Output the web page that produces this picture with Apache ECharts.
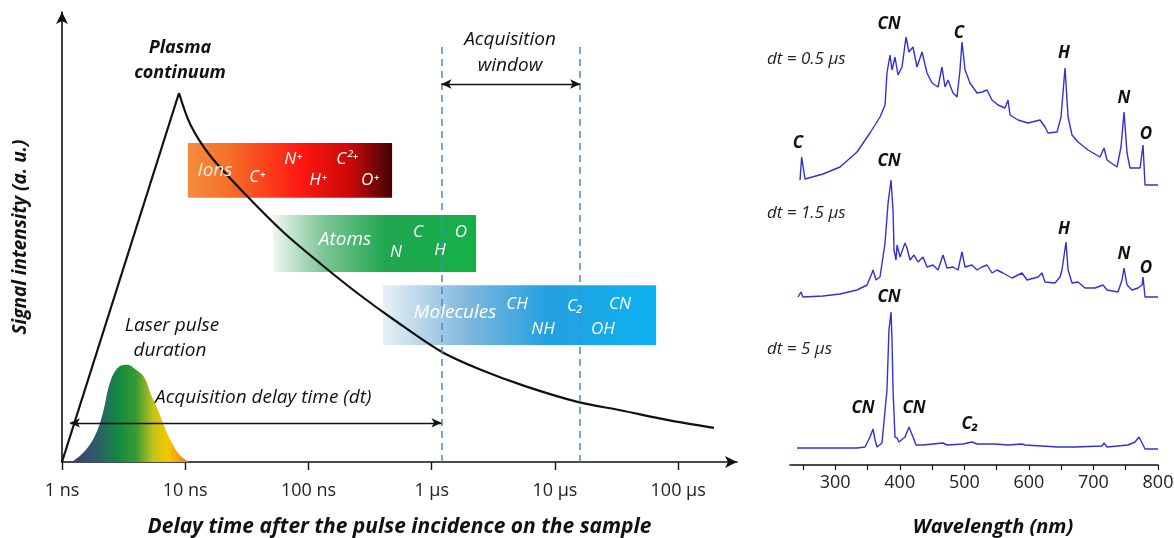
<!DOCTYPE html>
<html>
<head>
<meta charset="utf-8">
<script src="https://cdn.jsdelivr.net/npm/echarts@6/dist/echarts.min.js"></script>
<style>
  html, body { margin: 0; padding: 0; background: #fff; }
  #chart { width: 1174px; height: 538px; }
</style>
</head>
<body>
<div id="chart"></div>
<script>
// ---- left panel: time evolution (time in ns, intensity in a.u.) ----
const tickNs = [1, 10, 100, 1000, 10000, 100000];
const tickLabels = ['1 ns', '10 ns', '100 ns', '1 µs', '10 µs', '100 µs'];

const riseT = [1, 8.9];
const riseI = [0, 82];
const decayT = [8.9, 11, 16, 32, 63, 126, 250, 500, 1200, 2500, 5800, 15500, 34000, 83000, 195000];
const decayI = [82, 75, 68, 59, 51, 44, 37.5, 31.5, 24.5, 20.5, 16.8, 13.3, 11.5, 9.3, 7.6];

const pulseT = [1.2, 1.54, 1.89, 2.15, 2.45, 2.85, 3.37, 3.98, 4.63, 5.27, 6.0, 6.85, 7.8, 9.05, 10.7];
const pulseI = [0, 2.5, 6.4, 11, 17.6, 21, 21.6, 20.5, 18.9, 15, 11.6, 7.5, 4.2, 1.5, 0];

// species emission windows [t start, t end] ns, [I low, I high]
const ionsT = [10.5, 477],     ionsI = [58.7, 70.9];
const atomsT = [51.6, 2290],   atomsI = [42.2, 54.9];
const molT = [403, 66200],     molI = [26.0, 39.3];

const gateT = [1200, 16000];   // acquisition window (ns)
const gateTop = 92.7;
const windowArrowI = 84;
const delayStartT = 1.16;
const delayArrowI = 8.7;

// ---- right panel: spectra ----
const wlTicks = [250, 300, 350, 400, 450, 500, 550, 600, 650, 700, 750, 800];
const wlLabels = [300, 400, 500, 600, 700, 800];

const wl05 = [245.5, 248.1, 253.2, 281.1, 307.5, 333.8, 353.9, 369.4, 377.2, 380.2, 384.9, 388, 392.6, 397.3, 403.5, 409.7, 414.3, 420.5, 426.7, 434.5, 442.2, 450, 459.3, 465.4, 470.1, 474.7, 482.5, 488.7, 493.3, 496.4, 501.1, 508.8, 519.7, 527.4, 535.2, 542.9, 552.2, 563, 567.7, 570.8, 583.2, 598.7, 617.3, 625, 629.7, 643.6, 649.8, 656, 660.7, 666.8, 676.1, 691.6, 710.2, 716.4, 721, 736.5, 742.7, 747.4, 752, 756.7, 772.2, 776.8, 779.9, 800];
const int05 = [285, 308, 286, 291, 298, 313, 332, 348, 360, 392, 410, 395, 408, 390, 398, 428, 413, 418, 398, 413, 392, 382, 378, 398, 378, 385, 372, 368, 395, 423, 395, 382, 372, 373, 375, 365, 360, 357, 365, 350, 345, 342, 345, 338, 332, 333, 348, 397, 348, 330, 323, 315, 308, 317, 305, 298, 318, 353, 312, 297, 297, 320, 280, 280];

const wl15 = [242.4, 247, 250.1, 281.1, 307.5, 333.8, 349.3, 357, 358.6, 363.2, 369.4, 377.2, 381.9, 386.5, 389.6, 391.1, 394.2, 395.8, 400.4, 408.1, 411.2, 415.9, 422.1, 428.3, 436, 442.2, 451.5, 459.3, 467, 473.2, 482.5, 490.2, 496.4, 501.1, 511.9, 519.7, 527.4, 535.2, 542.9, 550.6, 559.9, 573.9, 589.4, 597.1, 614.2, 620.3, 625, 640.5, 648.2, 651.3, 657.5, 660.7, 666.8, 676.1, 687, 702.4, 714.8, 721, 738.1, 744.3, 747.4, 752, 759.8, 769.1, 775.3, 776.8, 779.9, 800];
const int15 = [168, 173, 168, 169, 171, 175, 180, 192, 195, 185, 188, 222, 262, 285, 255, 215, 205, 220, 208, 222, 217, 205, 210, 203, 208, 198, 200, 195, 210, 197, 198, 195, 213, 198, 200, 195, 198, 200, 192, 195, 192, 187, 192, 185, 188, 192, 183, 182, 188, 195, 223, 195, 182, 183, 177, 177, 180, 175, 173, 185, 197, 180, 175, 177, 180, 188, 168, 168];

const wl5 = [240.8, 281.1, 333.8, 346.2, 353.9, 358.6, 361.7, 364.8, 372.5, 380.2, 383.3, 386.5, 388, 389.6, 392.6, 395.8, 398.8, 408.1, 414.3, 420.5, 425.2, 436, 451.5, 467, 473.2, 498, 511.9, 519.7, 547.5, 567.7, 589.4, 590.9, 594, 645.1, 671.5, 713.3, 716.4, 721, 753.6, 764.4, 770.6, 775.3, 779.9, 800];
const int5 = [17, 17, 17, 18, 28, 36, 25, 18, 22, 75, 135, 153, 125, 75, 28, 27, 23, 28, 38, 28, 20, 20, 21, 22, 20, 21, 23, 21, 21, 20, 21, 23, 20, 18, 18, 19, 22, 18, 20, 23, 28, 22, 16, 16];

const L = Math.log10;
const zip = (a, b) => a.map((v, i) => [v, b[i]]);
const zipLog = (a, b) => a.map((v, i) => [L(v), b[i]]);

const FONT = '"Open Sans", "Noto Sans", sans-serif';
const G = echarts.graphic.LinearGradient;

function area(t, i, name, colors) {
  return [{ name: name, coord: [L(t[0]), i[1]], itemStyle: { color: new G(0, 0, 1, 0, colors) } },
          { coord: [L(t[1]), i[0]] }];
}

function txt(x, y, text, size, weight, color, align) {
  return {
    type: 'text', x: x, y: y, z: 100,
    style: {
      text: text, fill: color || '#111',
      font: 'italic ' + (weight || 'normal') + ' ' + size + 'px ' + FONT,
      textAlign: align || 'center', textVerticalAlign: 'middle'
    }
  };
}

const chart = echarts.init(document.getElementById('chart'));

const option = {
  animation: false,
  backgroundColor: '#fff',
  grid: [
    { left: 62, top: 12, width: 675, bottom: 76, outerBoundsMode: 'none', containLabel: false },
    { left: 790, top: 35, width: 368, bottom: 73, outerBoundsMode: 'none', containLabel: false }
  ],
  xAxis: [
    {
      gridIndex: 0, type: 'value', min: 0, max: L(300000),
      splitLine: { show: false },
      axisLine: { lineStyle: { color: '#111', width: 1.6 }, symbol: ['none', 'arrow'], symbolSize: [9, 12] },
      axisTick: { customValues: tickNs.map(L), length: 8, lineStyle: { color: '#111', width: 1.4 } },
      axisLabel: {
        customValues: tickNs.map(L), margin: 20, color: '#222', fontSize: 18, fontFamily: FONT,
        formatter: v => tickLabels[Math.round(v)]
      },
      name: 'Delay time after the pulse incidence on the sample',
      nameLocation: 'middle', nameGap: 55,
      nameTextStyle: { fontSize: 21, fontStyle: 'italic', fontWeight: 'bold', color: '#111', fontFamily: FONT }
    },
    {
      gridIndex: 1, type: 'value', min: 230, max: 800,
      splitLine: { show: false },
      axisLine: { lineStyle: { color: '#111', width: 1.6 } },
      axisTick: { customValues: wlTicks, length: 5, lineStyle: { color: '#111', width: 1.2 } },
      axisLabel: { customValues: wlLabels, margin: 9, color: '#222', fontSize: 18, fontFamily: FONT }
    }
  ],
  yAxis: [
    {
      gridIndex: 0, type: 'value', min: 0, max: 100,
      splitLine: { show: false }, axisTick: { show: false }, axisLabel: { show: false },
      axisLine: { show: true, lineStyle: { color: '#111', width: 1.6 }, symbol: ['none', 'arrow'], symbolSize: [9, 12] },
      name: 'Signal intensity (a. u.)', nameLocation: 'middle', nameGap: 32, nameRotate: 90,
      nameTextStyle: { fontSize: 19, fontStyle: 'italic', fontWeight: 'bold', color: '#111', fontFamily: FONT }
    },
    { gridIndex: 1, type: 'value', min: 0, max: 430, show: false }
  ],
  series: [
    {
      name: 'species', type: 'line', xAxisIndex: 0, yAxisIndex: 0, data: [], z: 1, silent: true,
      markArea: {
        silent: true, label: { show: false },
        data: [
          area(ionsT, ionsI, 'Ions', [{ offset: 0, color: '#f58c40' }, { offset: 0.2, color: '#f57028' }, { offset: 0.55, color: '#ff1812' }, { offset: 0.8, color: '#c80808' }, { offset: 1, color: '#420405' }]),
          area(atomsT, atomsI, 'Atoms', [{ offset: 0, color: '#eef7f0' }, { offset: 0.25, color: '#7cc596' }, { offset: 0.55, color: '#21a650' }, { offset: 1, color: '#14b048' }]),
          area(molT, molI, 'Molecules', [{ offset: 0, color: '#e8f0f6' }, { offset: 0.3, color: '#82b9dd' }, { offset: 0.6, color: '#24a0e0' }, { offset: 1, color: '#0cb2f0' }])
        ]
      }
    },
    {
      name: 'pulse', type: 'line', xAxisIndex: 0, yAxisIndex: 0, z: 2, smooth: 0.4, showSymbol: false,
      data: zipLog(pulseT, pulseI),
      lineStyle: { width: 0 },
      areaStyle: {
        opacity: 1,
        color: new G(0, 0, 1, 0, [
          { offset: 0, color: '#3c3f7c' }, { offset: 0.22, color: '#2d5d6a' }, { offset: 0.4, color: '#128a3e' },
          { offset: 0.55, color: '#3a9a34' }, { offset: 0.7, color: '#c8c418' }, { offset: 0.82, color: '#f4c800' },
          { offset: 1, color: '#f07a1c' }])
      }
    },
    {
      name: 'rise', type: 'line', xAxisIndex: 0, yAxisIndex: 0, z: 4, showSymbol: false,
      data: zipLog(riseT, riseI), lineStyle: { color: '#111', width: 2.2 }
    },
    {
      name: 'continuum', type: 'line', xAxisIndex: 0, yAxisIndex: 0, z: 4, showSymbol: false, smooth: 0.3,
      data: zipLog(decayT, decayI), lineStyle: { color: '#111', width: 2.2 }
    },
    {
      name: 'gate', type: 'line', xAxisIndex: 0, yAxisIndex: 0, data: [], z: 3,
      markLine: {
        silent: true, symbol: 'none', label: { show: false },
        lineStyle: { color: '#3d8fd4', type: [7, 5], width: 1.5 },
        data: gateT.map(t => [{ coord: [L(t), 0] }, { coord: [L(t), gateTop] }])
      }
    },
    {
      name: 'arrows', type: 'line', xAxisIndex: 0, yAxisIndex: 0, data: [], z: 5,
      markLine: {
        silent: true, symbol: ['arrow', 'arrow'], symbolSize: [7, 10], label: { show: false },
        lineStyle: { color: '#111', type: 'solid', width: 1.3 },
        data: [
          [{ coord: [L(gateT[0]), windowArrowI] }, { coord: [L(gateT[1]), windowArrowI] }],
          [{ coord: [L(delayStartT), delayArrowI] }, { coord: [L(gateT[0]), delayArrowI] }]
        ]
      }
    },
    {
      name: 'dt = 0.5 µs', type: 'line', xAxisIndex: 1, yAxisIndex: 1, showSymbol: false,
      data: zip(wl05, int05), lineStyle: { color: '#3232d2', width: 1.4 }
    },
    {
      name: 'dt = 1.5 µs', type: 'line', xAxisIndex: 1, yAxisIndex: 1, showSymbol: false,
      data: zip(wl15, int15), lineStyle: { color: '#3232d2', width: 1.4 }
    },
    {
      name: 'dt = 5 µs', type: 'line', xAxisIndex: 1, yAxisIndex: 1, showSymbol: false,
      data: zip(wl5, int5), lineStyle: { color: '#3232d2', width: 1.4 }
    }
  ],
  graphic: [
    // left panel annotations
    txt(180, 48, 'Plasma', 18, 'bold'),
    txt(180, 73, 'continuum', 18, 'bold'),
    txt(510, 40, 'Acquisition', 19),
    txt(510, 66, 'window', 19),
    txt(172, 326, 'Laser pulse', 19),
    txt(170, 351, 'duration', 19),
    txt(155, 398, 'Acquisition delay time (dt)', 19, 'normal', '#111', 'left'),
    txt(215, 171, 'Ions', 19, 'normal', '#fbeee4'),
    txt(257, 177, 'C⁺', 17, 'normal', '#fff'),
    txt(293, 159, 'N⁺', 17, 'normal', '#fff'),
    txt(318, 180, 'H⁺', 17, 'normal', '#fff'),
    txt(347, 159, 'C²⁺', 17, 'normal', '#fff'),
    txt(370, 180, 'O⁺', 17, 'normal', '#fff'),
    txt(345, 240, 'Atoms', 19, 'normal', '#fff'),
    txt(396, 252, 'N', 17, 'normal', '#fff'),
    txt(418, 232, 'C', 17, 'normal', '#fff'),
    txt(440, 250, 'H', 17, 'normal', '#fff'),
    txt(461, 232, 'O', 17, 'normal', '#fff'),
    txt(455, 313, 'Molecules', 19, 'normal', '#fff'),
    txt(517, 304, 'CH', 17, 'normal', '#fff'),
    txt(543, 329, 'NH', 17, 'normal', '#fff'),
    txt(575, 306, 'C₂', 17, 'normal', '#fff'),
    txt(603, 329, 'OH', 17, 'normal', '#fff'),
    txt(620, 304, 'CN', 17, 'normal', '#fff'),
    // right panel annotations
    txt(767, 59, 'dt = 0.5 µs', 17, 'normal', '#222', 'left'),
    txt(767, 213, 'dt = 1.5 µs', 17, 'normal', '#222', 'left'),
    txt(767, 349, 'dt = 5 µs', 17, 'normal', '#222', 'left'),
    txt(889, 24, 'CN', 17, 'bold'),
    txt(959, 33, 'C', 17, 'bold'),
    txt(1064, 53, 'H', 17, 'bold'),
    txt(1124, 98, 'N', 17, 'bold'),
    txt(1146, 134, 'O', 17, 'bold'),
    txt(798, 143, 'C', 17, 'bold'),
    txt(889, 161, 'CN', 17, 'bold'),
    txt(1064, 229, 'H', 17, 'bold'),
    txt(1124, 254, 'N', 17, 'bold'),
    txt(1146, 268, 'O', 17, 'bold'),
    txt(889, 297, 'CN', 17, 'bold'),
    txt(863, 408, 'CN', 17, 'bold'),
    txt(914, 408, 'CN', 17, 'bold'),
    txt(970, 424, 'C₂', 17, 'bold'),
    txt(993, 527, 'Wavelength (nm)', 20, 'bold')
  ]
};

chart.setOption(option);
</script>
</body>
</html>
